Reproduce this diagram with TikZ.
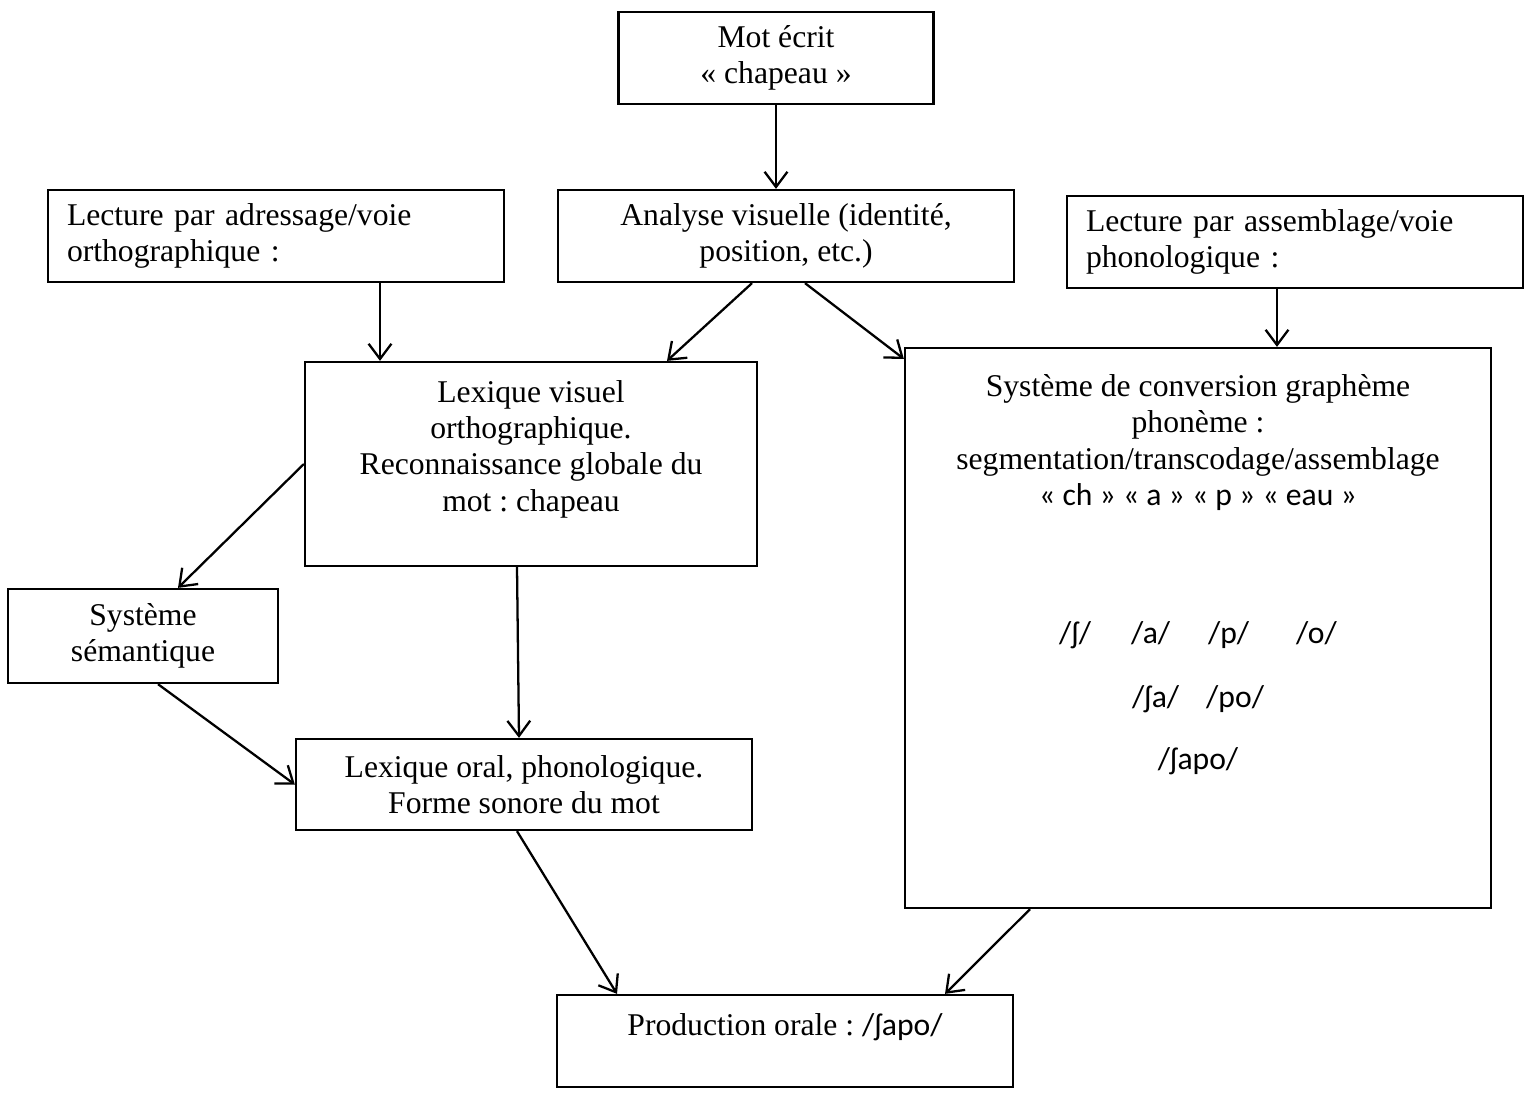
\documentclass[tikz,border=0pt]{standalone}
\usepackage{fontspec}
\setmainfont{Liberation Serif}
\newfontfamily\calib{Carlito}
\usetikzlibrary{arrows.meta,calc}

\newdimen\pxu \pxu=0.395pt

\tikzset{
   box/.style={draw, line width=0.9pt, inner sep=0pt, align=center,
      font=\fontsize{12.5}{14.4}\selectfont\frenchspacing},
   leftbox/.style={box, align=left, inner xsep=19*\pxu, text width=418*\pxu},
   arr/.style={-{Straight Barb[length=6pt,width=9pt]}, line width=0.9pt},
}

\begin{document}
\begin{tikzpicture}[x=0.395pt, y=-0.395pt]
   
   \useasboundingbox (0,0) rectangle (1528,1093);
   
   \node (motEcrit) at (776,58) [box, minimum width=315*\pxu, minimum height=92*\pxu] {Mot écrit\\«~chapeau~»};
   
   \node (adressage) at (276,236) [leftbox, minimum height=92*\pxu] {Lecture par adressage/voie\\orthographique :};
   \node (analyse) at (786,236) [box, minimum width=456*\pxu, minimum height=92*\pxu] {Analyse visuelle (identité,\\position, etc.)};
   \node (assemblage) at (1295,242) [leftbox, minimum height=92*\pxu] {Lecture par assemblage/voie\\phonologique :};
   
   \node (lexVisuel) at (531,464) [box, minimum width=452*\pxu, minimum height=204*\pxu] {Lexique visuel\\orthographique.\\Reconnaissance globale du\\mot : chapeau\\ \mbox{}};
   \node (conversion) at (1198,628) [box, minimum width=586*\pxu, minimum height=560*\pxu] {Système de conversion graphème\\phonème :\\segmentation/transcodage/assemblage\\{\calib «~ch~» «~a~» «~p~» «~eau~»}\\[40pt]{\calib /ʃ/\hspace{15.8pt}/a/\hspace{15pt}/p/\hspace{18.6pt}/o/}\\[11pt]{\calib /ʃa/\hspace{10.7pt}/po/}\\[10pt]{\calib /ʃapo/}\\[30pt]\mbox{}};
   
   \node (semantique) at (143,636) [box, minimum width=270*\pxu, minimum height=94*\pxu] {Système\\sémantique};
   \node (lexOral) at (524,784.5) [box, minimum width=456*\pxu, minimum height=91*\pxu] {Lexique oral, phonologique.\\Forme sonore du mot};
   
   \node (production) at (785,1041) [box, minimum width=456*\pxu, minimum height=92*\pxu] {Production orale : {\calib /ʃapo/}\\[-1pt] \mbox{}};

   \draw [arr] (motEcrit.south) -- (motEcrit.south |- analyse.north);
   
   \draw [arr] ($(adressage.south)+(104,0)$) -- ($(lexVisuel.north)+(-151,0)$);
   \draw [arr] ($(analyse.south)+(-34,0)$) -- ($(lexVisuel.north)+(136,0)$);
   \draw [arr] ($(analyse.south)+(19,0)$) -- ($(conversion.north west)+(0,12)$);
   \draw [arr] ($(assemblage.south)+(-18,0)$) -- ($(conversion.north)+(79,0)$);
   
   \draw [arr] (lexVisuel.west) -- ($(semantique.north)+(35,0)$);
   \draw [arr] ($(lexVisuel.south)+(-14,0)$) -- ($(lexOral.north)+(-5,0)$);
   \draw [arr] ($(semantique.south)+(15,0)$) -- (lexOral.west);
   
   \draw [arr] ($(lexOral.south)+(-7,0)$) -- ($(production.north)+(-168,0)$);
   \draw [arr] ($(conversion.south)+(-168,0)$) -- ($(production.north)+(160,0)$);
   
\end{tikzpicture}
\end{document}
